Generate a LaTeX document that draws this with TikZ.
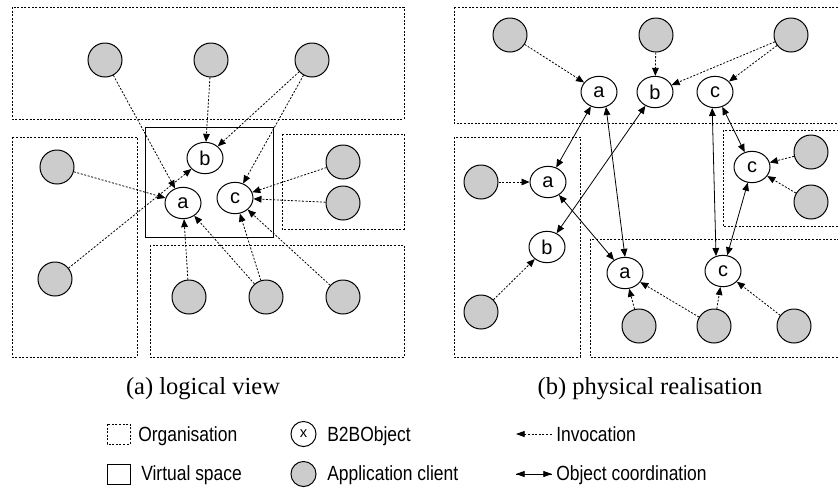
\documentclass[tikz,border=0pt]{standalone}
\usepackage{fontspec}
\setmainfont{Liberation Serif}
\setsansfont{Liberation Sans}
\usetikzlibrary{shapes.geometric,arrows.meta}
\definecolor{clientgray}{HTML}{CCCCCC}
\newcommand{\nar}[1]{\scalebox{0.85}[1]{#1}}
\begin{document}
\begin{tikzpicture}[x=0.75pt,y=-0.75pt,
  org/.style={draw, line width=0.6pt, dash pattern=on 1.5pt off 1.2pt},
  vspace/.style={draw, line width=0.75pt},
  client/.style={circle, draw, fill=clientgray, minimum size=25.5pt, inner sep=0pt, line width=0.75pt},
  obj/.style={ellipse, draw, fill=white, minimum width=27pt, minimum height=23.5pt, inner sep=0pt, line width=0.75pt, font=\sffamily\fontsize{15}{15}\selectfont},
  inv/.style={-{Triangle[length=6pt,width=5pt]}, line width=0.6pt, dash pattern=on 1.5pt off 1.2pt},
  coord/.style={{Triangle[length=6pt,width=5pt]}-{Triangle[length=6pt,width=5pt]}, line width=0.6pt},
  captext/.style={anchor=base, font=\fontsize{18.4}{18.4}\selectfont},
  leg/.style={anchor=base west, inner sep=0pt, font=\sffamily\fontsize{15.4}{15.4}\selectfont},
  legtip/.style={-{Triangle[length=6.5pt,width=4.5pt]}},
]
\clip (0,0) rectangle (838,487);
\fill[white] (0,0) rectangle (838,487);

% ---------- (a) logical view ----------
\draw[org] (12,7) rectangle (404,119);
\draw[org] (12,137) rectangle (137,357);
\draw[org] (282,134) rectangle (404,229);
\draw[org] (150,245) rectangle (404,357);
\draw[vspace] (145,127) rectangle (273,237);

\node[client] (la1) at (105,60) {};
\node[client] (la2) at (211,60) {};
\node[client] (la3) at (312,60) {};
\node[client] (la4) at (57,167) {};
\node[client] (la5) at (55,279) {};
\node[client] (la6) at (343,162) {};
\node[client] (la7) at (343,203) {};
\node[client] (la8) at (189,297) {};
\node[client] (la9) at (266,297) {};
\node[client] (la10) at (343,297) {};

\node[obj] (lb) at (205,158) {b};
\node[obj] (la) at (183,203) {a};
\node[obj] (lc) at (235,198) {c};

\draw[inv] (la1) -- (la);
\draw[inv] (la2) -- (lb);
\draw[inv] (la3) -- (lb);
\draw[inv] (la3) -- (lc);
\draw[inv] (la4) -- (la);
\draw[inv] (la5) -- (lb);
\draw[inv] (la6) -- (lc);
\draw[inv] (la7) -- (lc);
\draw[inv] (la8) -- (la);
\draw[inv] (la9) -- (la);
\draw[inv] (la9) -- (lc);
\draw[inv] (la10) -- (lc);

\node[captext] (capa) at (203,394) {(a) logical view};

% ---------- (b) physical realisation ----------
\draw[org] (454,7) rectangle (845,123);
\draw[org] (454,137) rectangle (580,357);
\draw[org] (723,130) rectangle (845,226);
\draw[org] (590,239) rectangle (845,357);

\node[client] (rb1) at (510,35) {};
\node[client] (rb2) at (656,35) {};
\node[client] (rb3) at (791,35) {};
\node[client] (rb4) at (481,182) {};
\node[client] (rb5) at (481,312) {};
\node[client] (rb6) at (811,152) {};
\node[client] (rb7) at (811,202) {};
\node[client] (rb8) at (639,326) {};
\node[client] (rb9) at (714,326) {};
\node[client] (rb10) at (794,326) {};

\node[obj] (ta) at (599,92) {a};
\node[obj] (tb) at (655,92) {b};
\node[obj] (tc) at (715,92) {c};
\node[obj] (ma) at (548,182) {a};
\node[obj] (mb) at (547,247) {b};
\node[obj] (mc) at (752,167) {c};
\node[obj] (ba) at (625,273) {a};
\node[obj] (bc) at (723,271) {c};

\draw[coord] (ta) -- (ma);
\draw[coord] (ta.-65) -- (ba.north);
\draw[coord] (tb) -- (mb);
\draw[coord] (ma) -- (ba);
\draw[coord] (tc) -- (mc);
\draw[coord] (tc.-100) -- (bc.115);
\draw[coord] (mc.-105) -- (bc.75);

\draw[inv] (rb1) -- (ta);
\draw[inv] (rb2) -- (tb);
\draw[inv] (rb3) -- (tb);
\draw[inv] (rb3) -- (tc);
\draw[inv] (rb4) -- (ma);
\draw[inv] (rb5) -- (mb);
\draw[inv] (rb6) -- (mc);
\draw[inv] (rb7) -- (mc);
\draw[inv] (rb8) -- (ba);
\draw[inv] (rb9) -- (ba);
\draw[inv] (rb9) -- (bc);
\draw[inv] (rb10) -- (bc);

\node[captext] (capb) at (650,394) {(b) physical realisation};

% ---------- legend ----------
\draw[org] (107,424) rectangle (130,444);
\node[leg] (lorg) at (138,441) {\nar{Organisation}};
\draw[vspace] (107,464) rectangle (130,484);
\node[leg] (lvs) at (141,480) {\nar{Virtual space}};

\node[circle, draw, line width=0.75pt, minimum size=18.8pt, inner sep=0pt, font=\sffamily\fontsize{11}{11}\selectfont] (lobj) at (303.5,434) {x};
\node[leg] (lobjt) at (327,441) {\nar{B2BObject}};
\node[client, minimum size=18.8pt] (lcli) at (303.5,474) {};
\node[leg] (lclit) at (327,480) {\nar{Application client}};

\coordinate (invtip) at (516,434);
\node[leg] (linv) at (556,441) {\nar{Invocation}};
\draw[org, legtip] (551.5,434) -- (invtip);
\coordinate (coA) at (516,474);
\coordinate (coB) at (552,474);
\node[leg] (lco) at (556,480) {\nar{Object coordination}};
\draw[line width=0.6pt, legtip] (coA) -- (coB);
\draw[line width=0.6pt, legtip] (coB) -- (coA);
\end{tikzpicture}
\end{document}
